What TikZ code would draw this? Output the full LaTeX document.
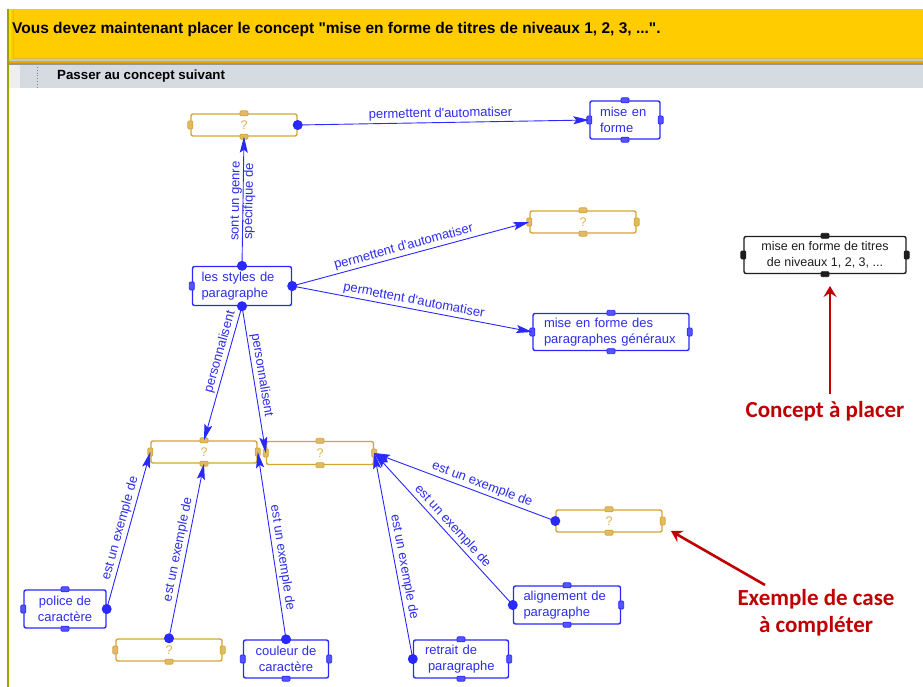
\documentclass[tikz,border=0pt]{standalone}
\usepackage{fontspec}
\setmainfont{Liberation Sans}
\newfontfamily\calfont{Carlito}
\usetikzlibrary{arrows.meta,calc}
\definecolor{cblue}{RGB}{40,40,255}
\definecolor{ctext}{RGB}{45,45,235}
\definecolor{cgold}{RGB}{212,165,50}
\definecolor{cred}{RGB}{192,0,0}
\definecolor{cyellow}{RGB}{255,204,0}
\definecolor{ctool}{RGB}{214,218,225}
\definecolor{colive}{RGB}{160,160,0}
\definecolor{cdark}{RGB}{30,30,30}
\begin{document}
\begin{tikzpicture}[x=1pt,y=-1pt,
  box/.style={draw=cblue, line width=1.4pt, rounded corners=2pt, text=ctext,
    font=\fontsize{13}{16}\selectfont, inner sep=0pt, align=left},
  qbox/.style={draw=cgold, line width=1.4pt, rounded corners=2pt, text=cgold!85,
    font=\fontsize{12.5}{14}\selectfont, inner sep=0pt, minimum width=106pt, minimum height=22pt},
  hh/.style={rectangle, rounded corners=1pt, minimum width=8pt, minimum height=5pt, inner sep=0pt, line width=0.7pt},
  hv/.style={rectangle, rounded corners=1pt, minimum width=5pt, minimum height=8pt, inner sep=0pt, line width=0.7pt},
  link/.style={draw=cblue, line width=0.9pt, -{Stealth[length=16pt,width=8pt,inset=3pt]}},
  lab/.style={text=ctext, font=\fontsize{13}{13.5}\selectfont, sloped, inner sep=2pt},
  redarrow/.style={draw=cred, line width=2.6pt, -{Stealth[length=11pt,width=13pt,inset=4pt]}},
  redlab/.style={text=cred, font=\calfont\bfseries\fontsize{23}{27}\selectfont, align=center}
]
\useasboundingbox (0,0) rectangle (923,687);
\fill[white] (0,0) rectangle (923,687);
% header
\fill[cyellow] (10,9) rectangle (923,59);
\fill[yellow!60!cyellow] (9,9) rectangle (11,59);
\draw[color={rgb,255:red,215;green,185;blue,60}, line width=0.8pt] (13,10) -- (13,58) -- (923,58);
\fill[color={rgb,255:red,200;green,200;blue,200}] (9,59) rectangle (923,61);
\fill[color={rgb,255:red,230;green,170;blue,0}] (9,61) rectangle (923,63);
\fill[color={rgb,255:red,150;green,150;blue,150}] (9,63) rectangle (923,65);
\fill[ctool] (9,65) rectangle (923,88);
\fill[color={rgb,255:red,236;green,238;blue,241}] (9,65) rectangle (20,88);
\draw[gray, line width=0.8pt, dotted] (37,67) -- (37,87);
\draw[colive, line width=2pt] (8,9) -- (8,687);
\node[anchor=west, inner sep=0pt, font=\bfseries\fontsize{15.5}{17}\selectfont] (hdr) at (12,29)
  {Vous devez maintenant placer le concept \textquotedbl mise en forme de titres de niveaux 1, 2, 3, ...\textquotedbl .};
\node[anchor=west, inner sep=0pt, font=\bfseries\fontsize{13.3}{15}\selectfont] (tool) at (57,76)
  {Passer au concept suivant};

% question boxes
\node[qbox] (q1) at (244,125) {?};
\node[qbox] (q2) at (583,222) {?};
\node[qbox] (q3) at (204,452) {?};
\node[qbox, minimum width=107pt, minimum height=23pt] (q4) at (320,453) {?};
\node[qbox] (q5) at (609,521) {?};
\node[qbox] (q6) at (169,650) {?};

% concept boxes
\node[box, minimum width=70pt, minimum height=38pt, text width=50pt] (mf) at (625,120) {mise en\\forme};
\node[box, minimum width=99pt, minimum height=39pt, text width=81pt] (sty) at (242,286) {les styles de\\paragraphe};
\node[box, minimum width=156pt, minimum height=37pt, text width=134pt] (mfpg) at (611,332) {mise en forme des\\paragraphes généraux};
\node[box, minimum width=82pt, minimum height=38pt, align=center] (pol) at (65,609) {police de\\caractère};
\node[box, minimum width=85pt, minimum height=38pt, align=center] (coul) at (286,659) {couleur de\\caractère};
\node[box, minimum width=95pt, minimum height=38pt, text width=72pt] (ret) at (461,659) {retrait de\\\hspace*{3pt}paragraphe};
\node[box, minimum width=107pt, minimum height=38pt, text width=87pt] (ali) at (567,605) {alignement de\\paragraphe};
\node[box, draw=cdark, text=cdark, minimum width=162pt, minimum height=37pt, align=center,
  font=\fontsize{12.5}{16}\selectfont] (tb) at (825,255) {mise en forme de titres\\de niveaux 1, 2, 3, ...};

% handles
\foreach \n in {q1,q2,q3,q4,q5,q6}{
  \node[hh, draw=cgold, fill=cgold!75] (\n-hn) at (\n.north) {};
  \node[hh, draw=cgold, fill=cgold!75] (\n-hs) at (\n.south) {};
  \node[hv, draw=cgold, fill=cgold!75] (\n-hw) at (\n.west) {};
  \node[hv, draw=cgold, fill=cgold!75] (\n-he) at (\n.east) {};
}
\foreach \n in {mf,sty,mfpg,pol,coul,ret,ali}{
  \node[hh, draw=cblue, fill=cblue!80] (\n-hn) at (\n.north) {};
  \node[hh, draw=cblue, fill=cblue!80] (\n-hs) at (\n.south) {};
  \node[hv, draw=cblue, fill=cblue!80] (\n-hw) at (\n.west) {};
  \node[hv, draw=cblue, fill=cblue!80] (\n-he) at (\n.east) {};
}
\node[hh, draw=cdark, fill=cdark] (tb-hn) at (tb.north) {};
\node[hh, draw=cdark, fill=cdark] (tb-hs) at (tb.south) {};
\node[hv, draw=cdark, fill=cdark] (tb-hw) at (tb.west) {};
\node[hv, draw=cdark, fill=cdark] (tb-he) at (tb.east) {};

% links
\draw[link] (q1.east) -- node[lab, above, pos=0.49] {permettent d\textquotesingle automatiser} (mf.west);
\draw[link] (sty.north) -- node[lab, pos=0.5, align=center] {sont un genre\\spécifique de} (q1.south);
\draw[link] (sty.east) -- node[lab, above, pos=0.48] {permettent d\textquotesingle automatiser} (q2.west);
\draw[link] (sty.east) -- node[lab, above, pos=0.5] {permettent d\textquotesingle automatiser} (mfpg.west);
\draw[link] (sty.south) -- node[lab, above, pos=0.36] {personnalisent} (q3.north);
\draw[link] (sty.south) -- node[lab, above, pos=0.48] {personnalisent} (q4.west);
\draw[link] (pol.east) -- node[lab, above, pos=0.5] {est un exemple de} (q3.west);
\draw[link] (q6.north) -- node[lab, above, pos=0.5] {est un exemple de} (q3.south);
\draw[link] (coul.north) -- node[lab, above, pos=0.43] {est un exemple de} (q3.east);
\draw[link] (ret.west) -- node[lab, above, pos=0.44] {est un exemple de} (q4.east);
\draw[link] (ali.west) -- node[lab, above, pos=0.48] {est un exemple de} (q4.east);
\draw[link] (q5.west) -- node[lab, above, pos=0.42] {est un exemple de} (q4.east);

% source dots
\foreach \p in {q1.east, sty.north, sty.east, sty.south, pol.east, q6.north, coul.north, ret.west, ali.west, q5.west}{
  \fill[cblue] (\p) circle (5pt);
}

% annotations
\node[redlab] (cap1) at (825,411) {Concept à placer};
\node[redlab] (cap2) at (816,613) {Exemple de case\\à compléter};
\coordinate (a1s) at (830,394);
\coordinate (a1e) at (830,286);
\coordinate (a2s) at (765,585);
\coordinate (a2e) at (671,531);
\draw[redarrow] (a1s) -- (a1e);
\draw[redarrow] (a2s) -- (a2e);
\end{tikzpicture}
\end{document}
